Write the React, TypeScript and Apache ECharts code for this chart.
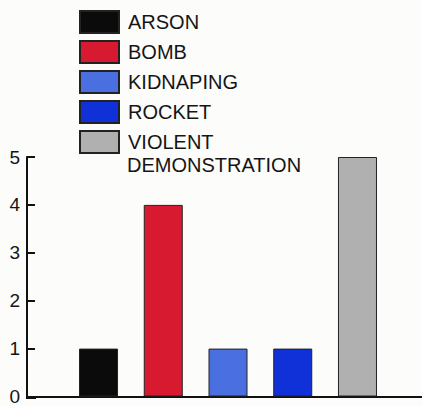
import React, { useEffect, useRef } from "react";
import * as echarts from "echarts";

const categories = ["Incidents"];
const seriesNames = ["ARSON", "BOMB", "KIDNAPING", "ROCKET", "VIOLENT DEMONSTRATION"];
const seriesValues = [1, 4, 1, 1, 5];
const seriesColors = ["#0b0b0b", "#d81a30", "#4a6fe0", "#1030d8", "#b0b0b0"];
const yTicks = [0, 1, 2, 3, 4, 5];

export default function App() {
  const ref = useRef<HTMLDivElement>(null);
  useEffect(() => {
    if (!ref.current) return;
    const chart = echarts.init(ref.current, undefined, { renderer: "svg" });
    const font = "'Liberation Sans', Arial, Helvetica, sans-serif";
    chart.setOption({
      animation: false,
      backgroundColor: "#fcfcfb",
      legend: {
        orient: "vertical",
        left: 79,
        top: 10,
        padding: 0,
        itemWidth: 39,
        itemHeight: 22,
        itemGap: 6,
        icon: "rect",
        selectedMode: false,
        data: seriesNames,
        formatter: (name: string) => (name === "VIOLENT DEMONSTRATION" ? "VIOLENT" : name),
        textStyle: { fontSize: 20, lineHeight: 20, fontFamily: font, color: "#151515", padding: [4, 0, -4, 4] },
      },
      graphic: [
        {
          type: "text",
          left: 127,
          top: 155,
          style: { text: "DEMONSTRATION", fontSize: 20, fontFamily: font, fill: "#151515" },
        },
        {
          type: "line",
          shape: { x1: 26, y1: 398, x2: 36, y2: 398 },
          style: { stroke: "#111", lineWidth: 2 },
        },
      ],
      grid: { left: 34, right: 0, top: 157, bottom: 8, containLabel: false },
      xAxis: {
        type: "category",
        data: categories,
        axisLine: { lineStyle: { color: "#111", width: 2 } },
        axisTick: { show: false },
        axisLabel: { show: false },
      },
      yAxis: {
        type: "value",
        offset: 7,
        min: yTicks[0],
        max: yTicks[yTicks.length - 1],
        interval: 1,
        splitLine: { show: false },
        axisLine: { show: true, lineStyle: { color: "#111", width: 2 } },
        axisTick: { show: true, inside: true, length: 8, lineStyle: { color: "#111", width: 2 } },
        axisLabel: { fontSize: 19, fontFamily: font, color: "#151515", margin: 7 },
      },
      series: seriesNames.map((name, i) => ({
        name,
        type: "bar",
        barWidth: 39,
        barGap: "66%",
        data: categories.map(() => seriesValues[i]),
        itemStyle: { color: seriesColors[i], borderColor: "#222", borderWidth: 1 },
      })),
    });
    return () => chart.dispose();
  }, []);
  return (
    <div
      ref={ref}
      style={{ position: "fixed", left: 0, top: 0, width: 422, height: 406 }}
    />
  );
}
